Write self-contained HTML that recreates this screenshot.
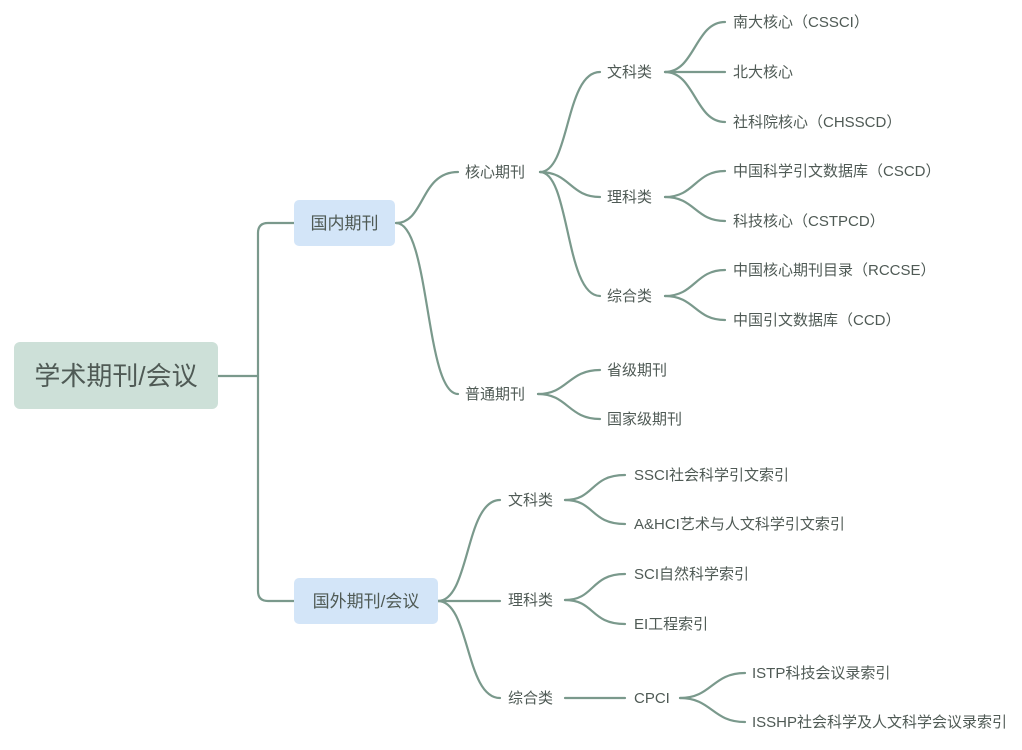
<!DOCTYPE html>
<html><head><meta charset="utf-8"><style>
html,body{margin:0;padding:0;background:#fff;}
svg text{font-family:"Liberation Sans","Noto Sans CJK SC",sans-serif;fill:#4f5a55;}
</style></head><body>
<svg width="1022" height="745" viewBox="0 0 1022 745" xmlns="http://www.w3.org/2000/svg">
<g fill="none" stroke="#7a998c" stroke-width="2.2" stroke-linecap="round">
<path d="M218 376 H258"/>
<path d="M294 223 H268 Q258 223 258 233 V591 Q258 601 268 601 H294"/>
<path d="M396 223 C425 223,420 172,458 172"/>
<path d="M396 223 C430 223,425 394,458 394"/>
<path d="M540 172 C570 172,565 72,600 72"/>
<path d="M540 172 C570 172,570 197,600 197"/>
<path d="M540 172 C570 172,565 296,600 296"/>
<path d="M665 72 C695 72,695 22,725 22"/>
<path d="M665 72 H725"/>
<path d="M665 72 C695 72,695 122,725 122"/>
<path d="M665 197 C695 197,695 171,725 171"/>
<path d="M665 197 C695 197,695 221,725 221"/>
<path d="M665 296 C695 296,695 270,725 270"/>
<path d="M665 296 C695 296,695 320,725 320"/>
<path d="M538 394 C568 394,568 370,600 370"/>
<path d="M538 394 C568 394,568 419,600 419"/>
<path d="M438 601 C470 601,465 500,500 500"/>
<path d="M438 601 H500"/>
<path d="M438 601 C470 601,465 698,500 698"/>
<path d="M565 500 C595 500,590 475,625 475"/>
<path d="M565 500 C595 500,590 524,625 524"/>
<path d="M565 600 C595 600,590 574,625 574"/>
<path d="M565 600 C595 600,590 624,625 624"/>
<path d="M565 698 H625"/>
<path d="M680 698 C712 698,712 673,745 673"/>
<path d="M680 698 C712 698,712 722,745 722"/>
</g>
<rect x="14" y="342" width="204" height="67" rx="6" fill="#cde0d8"/>
<text x="116" y="385" font-size="26" text-anchor="middle">学术期刊/会议</text>
<rect x="294" y="200" width="101" height="46" rx="5" fill="#d3e5f8"/>
<text x="344.5" y="229" font-size="17" text-anchor="middle">国内期刊</text>
<rect x="294" y="578" width="144" height="46" rx="5" fill="#d3e5f8"/>
<text x="366" y="607" font-size="17" text-anchor="middle">国外期刊/会议</text>
<g font-size="15">
<text x="465" y="177">核心期刊</text>
<text x="465" y="399">普通期刊</text>
<text x="607" y="77">文科类</text>
<text x="607" y="202">理科类</text>
<text x="607" y="301">综合类</text>
<text x="733" y="27">南大核心（CSSCI）</text>
<text x="733" y="77">北大核心</text>
<text x="733" y="127">社科院核心（CHSSCD）</text>
<text x="733" y="176">中国科学引文数据库（CSCD）</text>
<text x="733" y="226">科技核心（CSTPCD）</text>
<text x="733" y="275">中国核心期刊目录（RCCSE）</text>
<text x="733" y="325">中国引文数据库（CCD）</text>
<text x="607" y="375">省级期刊</text>
<text x="607" y="424">国家级期刊</text>
<text x="508" y="505">文科类</text>
<text x="508" y="605">理科类</text>
<text x="508" y="703">综合类</text>
<text x="634" y="480">SSCI社会科学引文索引</text>
<text x="634" y="529">A&amp;HCI艺术与人文科学引文索引</text>
<text x="634" y="579">SCI自然科学索引</text>
<text x="634" y="629">EI工程索引</text>
<text x="634" y="703">CPCI</text>
<text x="752" y="678">ISTP科技会议录索引</text>
<text x="752" y="727">ISSHP社会科学及人文科学会议录索引</text>
</g>
</svg>
</body></html>
